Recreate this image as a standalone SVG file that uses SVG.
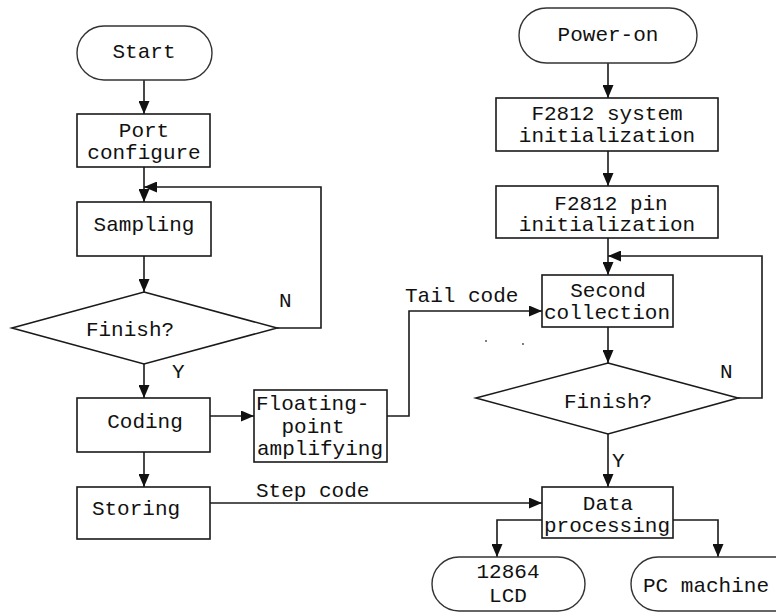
<svg xmlns="http://www.w3.org/2000/svg" width="776" height="613" viewBox="0 0 776 613">
  <style>
    .box { fill: #fff; stroke: #1a1a1a; stroke-width: 1.6; }
    .term { fill: #fff; stroke: #333; stroke-width: 1.4; }
    .wire { fill: none; stroke: #1a1a1a; stroke-width: 1.6; }
    text { font-family: "Liberation Mono", "DejaVu Sans Mono", monospace; font-size: 21px; fill: #111; }
    .c { text-anchor: middle; }
  </style>
  <defs>
    <marker id="arr" viewBox="0 0 13 11" refX="13" refY="5.5" markerWidth="13" markerHeight="11" markerUnits="userSpaceOnUse" orient="auto">
      <path d="M0,0 L13,5.5 L0,11 Z" fill="#111"/>
    </marker>
  </defs>

  <rect width="776" height="613" fill="#fff"/>

  <!-- connectors -->
  <g id="connectors">
    <line class="wire" x1="144" y1="80" x2="144" y2="114" marker-end="url(#arr)"/>
    <line class="wire" x1="144" y1="167" x2="144" y2="202" marker-end="url(#arr)"/>
    <line class="wire" x1="144" y1="256" x2="144" y2="292" marker-end="url(#arr)"/>
    <polyline class="wire" points="277,328 321,328 321,187 144,187" marker-end="url(#arr)"/>
    <line class="wire" x1="144" y1="364" x2="144" y2="398" marker-end="url(#arr)"/>
    <line class="wire" x1="210" y1="416" x2="254" y2="416" marker-end="url(#arr)"/>
    <line class="wire" x1="144" y1="452" x2="144" y2="487" marker-end="url(#arr)"/>
    <polyline class="wire" points="387,416 409,416 409,311 542,311" marker-end="url(#arr)"/>
    <line class="wire" x1="210" y1="503" x2="542" y2="503" marker-end="url(#arr)"/>

    <line class="wire" x1="608" y1="63" x2="608" y2="98" marker-end="url(#arr)"/>
    <line class="wire" x1="608" y1="151" x2="608" y2="186" marker-end="url(#arr)"/>
    <line class="wire" x1="608" y1="238" x2="608" y2="275" marker-end="url(#arr)"/>
    <polyline class="wire" points="738,398 762,398 762,256 608,256" marker-end="url(#arr)"/>
    <line class="wire" x1="608" y1="327" x2="608" y2="363" marker-end="url(#arr)"/>
    <line class="wire" x1="608" y1="434" x2="608" y2="487" marker-end="url(#arr)"/>
    <polyline class="wire" points="542,520 497,520 497,557" marker-end="url(#arr)"/>
    <polyline class="wire" points="673,520 718,520 718,557" marker-end="url(#arr)"/>
  </g>

  <!-- left flow -->
  <g id="start">
    <rect class="term" x="77" y="26" width="135" height="54" rx="27"/>
    <text class="c" x="144" y="58">Start</text>
  </g>
  <g id="port-configure">
    <rect class="box" x="77" y="114" width="133" height="53"/>
    <text class="c" x="144" y="137">Port</text>
    <text class="c" x="144" y="159">configure</text>
  </g>
  <g id="sampling">
    <rect class="box" x="77" y="202" width="134" height="54"/>
    <text class="c" x="144" y="231">Sampling</text>
  </g>
  <g id="finish-left">
    <polygon class="box" points="144,292 277,328 144,364 12,328"/>
    <text class="c" x="130" y="336">Finish?</text>
    <text x="279" y="307">N</text>
    <text x="172" y="378">Y</text>
  </g>
  <g id="coding">
    <rect class="box" x="77" y="398" width="133" height="54"/>
    <text class="c" x="145" y="428">Coding</text>
  </g>
  <g id="floating-point">
    <rect class="box" x="254" y="390" width="133" height="72"/>
    <text x="256" y="410">Floating-</text>
    <text class="c" x="313" y="433">point</text>
    <text class="c" x="320" y="455">amplifying</text>
  </g>
  <g id="storing">
    <rect class="box" x="77" y="487" width="133" height="52"/>
    <text class="c" x="136" y="515">Storing</text>
  </g>
  <text x="256" y="497">Step code</text>
  <text x="405" y="302">Tail code</text>

  <!-- right flow -->
  <g id="power-on">
    <rect class="term" x="519" y="8" width="178" height="55" rx="27.5"/>
    <text class="c" x="608" y="41">Power-on</text>
  </g>
  <g id="system-init">
    <rect class="box" x="496" y="98" width="222" height="53"/>
    <text class="c" x="607" y="120">F2812 system</text>
    <text class="c" x="607" y="142">initialization</text>
  </g>
  <g id="pin-init">
    <rect class="box" x="496" y="186" width="222" height="52"/>
    <text class="c" x="611" y="210">F2812 pin</text>
    <text class="c" x="607" y="231">initialization</text>
  </g>
  <g id="second-collection">
    <rect class="box" x="542" y="275" width="131" height="52"/>
    <text class="c" x="608" y="297">Second</text>
    <text class="c" x="607" y="319">collection</text>
  </g>
  <g id="finish-right">
    <polygon class="box" points="608,363 738,398 608,434 476,398"/>
    <text class="c" x="608" y="408">Finish?</text>
    <text x="720" y="378">N</text>
    <text x="612" y="467">Y</text>
  </g>
  <g id="data-processing">
    <rect class="box" x="542" y="487" width="131" height="51"/>
    <text class="c" x="608" y="510">Data</text>
    <text class="c" x="607" y="532">processing</text>
  </g>
  <g id="lcd">
    <rect class="term" x="432" y="557" width="153" height="54" rx="27"/>
    <text class="c" x="508" y="578">12864</text>
    <text class="c" x="508" y="602">LCD</text>
  </g>
  <g id="pc-machine">
    <rect class="term" x="631" y="557" width="170" height="54" rx="27"/>
    <text x="643" y="592">PC machine</text>
  </g>

  <!-- specks -->
  <circle cx="486" cy="341" r="0.9" fill="#444"/>
  <circle cx="523" cy="344" r="0.9" fill="#444"/>
</svg>
